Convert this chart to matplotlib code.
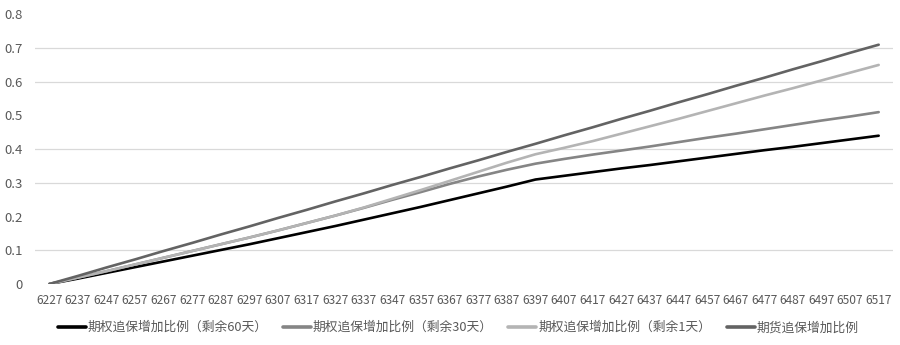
import matplotlib
matplotlib.use("Agg")
import matplotlib.pyplot as plt

plt.rcParams['font.family'] = ['Noto Sans CJK SC', 'DejaVu Sans']

categories = [str(v) for v in range(6227, 6518, 10)]

opt60 = [0, 0.016, 0.033, 0.050, 0.067, 0.084, 0.101, 0.118, 0.136, 0.154,
         0.172, 0.191, 0.210, 0.229, 0.249, 0.269, 0.289, 0.310, 0.321, 0.332,
         0.343, 0.353, 0.364, 0.375, 0.386, 0.397, 0.407, 0.418, 0.429, 0.440]
opt30 = [0, 0.019, 0.038, 0.058, 0.078, 0.098, 0.118, 0.138, 0.159, 0.181,
         0.203, 0.226, 0.250, 0.273, 0.297, 0.319, 0.339, 0.357, 0.371, 0.384,
         0.396, 0.408, 0.421, 0.434, 0.446, 0.459, 0.472, 0.485, 0.497, 0.510]
opt1 = [0, 0.019, 0.038, 0.058, 0.078, 0.098, 0.118, 0.138, 0.159, 0.181,
        0.203, 0.227, 0.253, 0.279, 0.306, 0.333, 0.360, 0.385, 0.404, 0.424,
        0.446, 0.468, 0.490, 0.513, 0.536, 0.559, 0.581, 0.604, 0.627, 0.650]
fut = [0, 0.024, 0.049, 0.073, 0.098, 0.122, 0.147, 0.171, 0.196, 0.220,
       0.245, 0.269, 0.294, 0.318, 0.343, 0.367, 0.392, 0.416, 0.441, 0.465,
       0.490, 0.514, 0.539, 0.563, 0.588, 0.612, 0.637, 0.661, 0.686, 0.710]

series = [
    ("期权追保增加比例（剩余60天）", opt60, "#000000"),
    ("期权追保增加比例（剩余30天）", opt30, "#858585"),
    ("期权追保增加比例（剩余1天）", opt1, "#b4b4b4"),
    ("期货追保增加比例", fut, "#636363"),
]

yticks = [0, 0.1, 0.2, 0.3, 0.4, 0.5, 0.6, 0.7, 0.8]
ytick_labels = ["0", "0.1", "0.2", "0.3", "0.4", "0.5", "0.6", "0.7", "0.8"]

fig = plt.figure(figsize=(9, 3.45), dpi=100)
ax = fig.add_axes([0.0389, 0.1768, 0.9533, 0.7815])

x = list(range(len(categories)))
for name, vals, col in series:
    ax.plot(x, vals, color=col, lw=1.9, label=name, solid_capstyle='round')

ax.set_xlim(-0.5, len(categories) - 0.5)
ax.set_ylim(0, 0.8)
ax.set_yticks(yticks)
ax.set_yticklabels(ytick_labels)
ax.set_xticks(x)
ax.set_xticklabels(categories)
ax.tick_params(axis='both', length=0, colors='#595959')
ax.tick_params(axis='y', labelsize=9.5, pad=9)
ax.tick_params(axis='x', labelsize=8.6, pad=7)
for s in ax.spines.values():
    s.set_visible(False)
ax.yaxis.grid(True, color='#d9d9d9', lw=0.9)
ax.set_axisbelow(True)
shown = {0.1, 0.3, 0.4, 0.6, 0.7}
for gl, v in zip(ax.get_ygridlines(), yticks):
    gl.set_visible(v in shown)

leg = fig.legend(loc='center', bbox_to_anchor=(0.509, 0.05), ncol=4, frameon=False,
                 fontsize=9.2, handlelength=2.2, handletextpad=0.15, columnspacing=1.2,
                 labelcolor='#595959')
for h in leg.get_lines():
    h.set_linewidth(2.6)

fig.savefig("out.png", dpi=100)
